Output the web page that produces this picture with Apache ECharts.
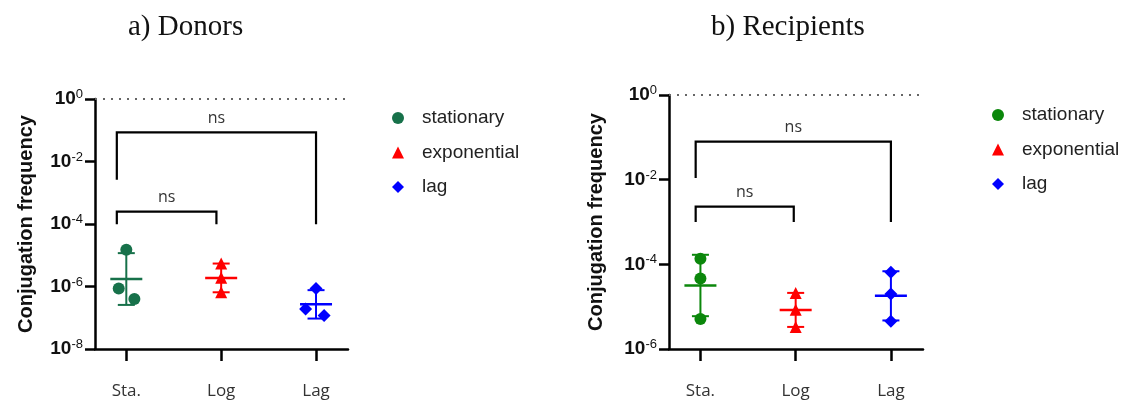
<!DOCTYPE html>
<html>
<head>
<meta charset="utf-8">
<script src="https://cdn.jsdelivr.net/npm/echarts@6/dist/echarts.min.js"></script>
<style>
html,body{margin:0;padding:0;background:#fff;}
#chart{width:1129px;height:405px;}
</style>
</head>
<body>
<div id="chart"></div>
<script>
// ---- data ----
const categories = ['Sta.', 'Log', 'Lag'];
const groupNames = ['stationary', 'exponential', 'lag'];
const panelTitles = ['a) Donors', 'b) Recipients'];
const yAxisTitle = 'Conjugation frequency';

const donorsStationary = [1.5e-5, 8.7e-7, 4.0e-7];
const donorsExponential = [5.4e-6, 1.9e-6, 6.5e-7];
const donorsLag = [8.7e-7, 1.9e-7, 1.17e-7];
const donorsJitter = [[0, -0.08, 0.085], [0, 0, 0], [0, -0.11, 0.085]];

const recipientsStationary = [1.35e-4, 4.6e-5, 5.1e-6];
const recipientsExponential = [2.1e-5, 8.5e-6, 3.3e-6];
const recipientsLag = [6.5e-5, 2.0e-5, 4.5e-6];
const recipientsJitter = [[0, 0, 0], [0, 0, 0], [0, 0, 0]];

// brackets: [xStart, xEnd, yTop, yLeftEnd, yRightEnd], label
const donorsBrackets = [[-0.1, 0.95, 2.5e-4, 9.8e-5, 9.8e-5], [-0.1, 2.0, 8.5e-2, 2.6e-3, 9.8e-5]];
const recipientsBrackets = [[-0.05, 0.98, 2.3e-3, 1.0e-3, 1.0e-3], [-0.05, 2.0, 7.9e-2, 1.1e-2, 1.0e-3]];
const bracketLabels = ['ns', 'ns'];

const donorsYRange = [1e-8, 1];
const recipientsYRange = [1e-6, 1];

// ---- styles ----
const donorColors = ['#17714a', '#ff0000', '#0000ff'];
const recipColors = ['#0b870b', '#ff0000', '#0000ff'];
const symbols = ['circle', 'triangle', 'diamond'];
const symbolSizes = [12, 12, 13];

function geoStats(vals) {
  const l = vals.map(v => Math.log10(v));
  const m = l.reduce((a, b) => a + b, 0) / l.length;
  const sd = Math.sqrt(l.reduce((a, b) => a + (b - m) * (b - m), 0) / (l.length - 1));
  return [Math.pow(10, m), Math.pow(10, m - sd), Math.pow(10, m + sd)];
}

const chart = echarts.init(document.getElementById('chart'), null, {renderer: 'canvas'});

const grids = [
  {left: 95, top: 99, width: 253, height: 250},
  {left: 669, top: 95, width: 254, height: 254}
];

function xAxisFor(i) {
  return {
    type: 'value', gridIndex: i, min: -0.33, max: 2.337,
    splitLine: {show: false},
    axisLine: {show: true, onZero: false, lineStyle: {color: '#000', width: 2.5}},
    axisTick: {show: true, length: 12, lineStyle: {color: '#000', width: 2.5}, customValues: [0, 1, 2]},
    axisLabel: {
      customValues: [0, 1, 2], margin: 34,
      formatter: v => categories[Math.round(v)],
      fontFamily: 'Open Sans', fontSize: 17, color: '#333'
    }
  };
}
function yAxisFor(i, range, gap) {
  return {
    type: 'log', logBase: 10, gridIndex: i, min: range[0], max: range[1], interval: 2,
    name: yAxisTitle, nameLocation: 'middle', nameGap: gap,
    nameTextStyle: {fontFamily: 'Liberation Sans', fontWeight: 'bold', fontSize: 20, color: '#111'},
    splitLine: {show: false}, minorTick: {show: false},
    axisLine: {show: true, onZero: false, lineStyle: {color: '#000', width: 2.5}},
    axisTick: {show: true, length: 10, lineStyle: {color: '#000', width: 2.5}},
    axisLabel: {
      margin: 12,
      formatter: v => '{b|10}{s|' + Math.round(Math.log10(v)) + '}',
      rich: {
        b: {fontFamily: 'Liberation Sans', fontWeight: 'bold', fontSize: 19, color: '#111', lineHeight: 22},
        s: {fontFamily: 'Liberation Sans', fontSize: 13, color: '#111', verticalAlign: 'top', lineHeight: 13}
      }
    }
  };
}

function panelSeries(i, groups, jitter, colors, brackets) {
  const out = [];
  out.push({
    type: 'custom', xAxisIndex: i, yAxisIndex: i, z: 2, silent: true,
    data: groups.map((g, k) => [k].concat(geoStats(g))),
    renderItem: function (params, api) {
      const x = api.value(0);
      const c = api.coord([x, api.value(1)]);
      const lo = api.coord([x, api.value(2)]);
      const hi = api.coord([x, api.value(3)]);
      const col = colors[params.dataIndex];
      const st = {stroke: col, lineWidth: 2};
      return {type: 'group', children: [
        {type: 'line', shape: {x1: c[0], y1: hi[1], x2: c[0], y2: lo[1]}, style: st},
        {type: 'line', shape: {x1: c[0] - 8.5, y1: hi[1], x2: c[0] + 8.5, y2: hi[1]}, style: st},
        {type: 'line', shape: {x1: c[0] - 8.5, y1: lo[1], x2: c[0] + 8.5, y2: lo[1]}, style: st},
        {type: 'line', shape: {x1: c[0] - 16, y1: c[1], x2: c[0] + 16, y2: c[1]}, style: {stroke: col, lineWidth: 2.5}}
      ]};
    }
  });
  groups.forEach((g, k) => {
    const s = {
      type: 'scatter', name: groupNames[k], xAxisIndex: i, yAxisIndex: i, z: 3,
      symbol: symbols[k], symbolSize: symbolSizes[k],
      itemStyle: {color: colors[k], opacity: 1},
      data: g.map((v, j) => [k + jitter[k][j], v])
    };
    if (k === 0) {
      s.markLine = {
        symbol: 'none', silent: true, label: {show: false},
        lineStyle: {type: [2, 6], color: '#666', width: 2},
        data: [{yAxis: 1}]
      };
    }
    out.push(s);
  });
  out.push({
    type: 'custom', xAxisIndex: i, yAxisIndex: i, z: 4, silent: true,
    data: brackets,
    renderItem: function (params, api) {
      const a = api.coord([api.value(0), api.value(2)]);
      const b = api.coord([api.value(1), api.value(2)]);
      const la = api.coord([api.value(0), api.value(3)]);
      const rb = api.coord([api.value(1), api.value(4)]);
      const st = {stroke: '#000', lineWidth: 2.2};
      return {type: 'group', children: [
        {type: 'polyline', shape: {points: [[la[0], la[1]], [a[0], a[1]], [b[0], b[1]], [rb[0], rb[1]]]}, style: Object.assign({fill: 'none'}, st)},
        {type: 'text', style: {
          text: bracketLabels[params.dataIndex], x: (a[0] + b[0]) / 2, y: a[1] - 14,
          align: 'center', verticalAlign: 'middle',
          fontFamily: 'Open Sans', fontSize: 16, fill: '#333'
        }}
      ]};
    }
  });
  return out;
}

function legendFor(left, top, colors) {
  return {
    orient: 'vertical', left: left, top: top,
    itemWidth: 12, itemHeight: 12, itemGap: 14.5,
    textStyle: {fontFamily: 'Liberation Sans', fontSize: 19, color: '#222', lineHeight: 20, padding: [0, 0, 0, 13]},
    selectedMode: false,
    data: groupNames.map((n, k) => ({name: n, icon: symbols[k], itemStyle: {color: colors[k]}}))
  };
}

const option = {
  backgroundColor: '#fff',
  animation: false,
  title: [
    {text: panelTitles[0], left: 123, top: 8, textStyle: {fontFamily: 'Liberation Serif', fontWeight: 'normal', fontSize: 29, color: '#111'}},
    {text: panelTitles[1], left: 706, top: 8, textStyle: {fontFamily: 'Liberation Serif', fontWeight: 'normal', fontSize: 29, color: '#111'}}
  ],
  legend: [legendFor(387, 103, donorColors), legendFor(987, 100, recipColors)],
  grid: grids.map(g => Object.assign({containLabel: false, outerBoundsMode: 'none'}, g)),
  xAxis: [xAxisFor(0), xAxisFor(1)],
  yAxis: [yAxisFor(0, donorsYRange, 59), yAxisFor(1, recipientsYRange, 63)],
  series: [].concat(
    panelSeries(0, [donorsStationary, donorsExponential, donorsLag], donorsJitter, donorColors, donorsBrackets),
    panelSeries(1, [recipientsStationary, recipientsExponential, recipientsLag], recipientsJitter, recipColors, recipientsBrackets)
  )
};
chart.setOption(option);
</script>
</body>
</html>
